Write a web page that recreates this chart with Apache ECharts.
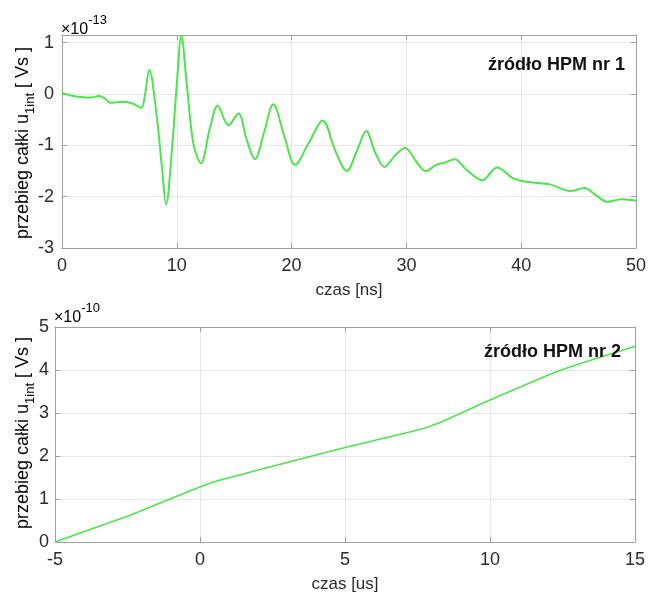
<!DOCTYPE html>
<html>
<head>
<meta charset="utf-8">
<script src="https://cdn.jsdelivr.net/npm/echarts@6/dist/echarts.min.js"></script>
<style>
html,body{margin:0;padding:0;background:#fff;}
#c{width:649px;height:595px;}
</style>
</head>
<body>
<div id="c"></div>
<script>
// ---- Data (top plot: time in ns, value in 1e-13 Vs) ----
const t1 = [0, 0.8, 1.6, 2.5, 3.2, 3.7, 4.2, 4.8, 5.4, 6.2, 6.9, 7.2, 7.6, 8.26, 8.7, 9.07, 9.57, 10.0, 10.4, 10.87, 11.45, 12.1, 12.9, 13.56, 14.5, 15.36, 16.1, 16.8, 17.6, 18.4, 19.4, 20.3, 21.5, 22.7, 23.8, 24.8, 25.7, 26.5, 27.3, 28.1, 29.0, 29.9, 30.8, 31.7, 32.6, 33.3, 34.2, 35.2, 36.6, 37.9, 39.3, 40.4, 42.5, 44.3, 45.5, 46.5, 47.5, 48.8, 50];
const u1 = [0.02, -0.03, -0.06, -0.07, -0.04, -0.08, -0.17, -0.16, -0.15, -0.19, -0.27, -0.05, 0.47, -0.45, -1.42, -2.15, -1.1, 0.19, 1.13, 0.19, -0.97, -1.35, -0.65, -0.23, -0.61, -0.38, -0.9, -1.27, -0.75, -0.2, -0.85, -1.38, -0.95, -0.52, -1.1, -1.5, -1.1, -0.72, -1.15, -1.42, -1.2, -1.05, -1.3, -1.5, -1.38, -1.34, -1.27, -1.47, -1.68, -1.43, -1.64, -1.71, -1.76, -1.89, -1.83, -1.97, -2.1, -2.05, -2.08];

// ---- Data (bottom plot: time in us, value in 1e-10 Vs) ----
const t2 = [-5, -2.5, -1.4, 0, 0.7, 4.9, 7.7, 8.2, 10, 12.3, 15];
const u2 = [0, 0.6, 0.9, 1.28, 1.44, 2.18, 2.64, 2.76, 3.30, 3.96, 4.55];

// ---- Labels ----
const xName1 = 'czas [ns]';
const xName2 = 'czas [us]';
const note1 = 'źródło HPM nr 1';
const note2 = 'źródło HPM nr 2';
const exp1 = '-13';
const exp2 = '-10';

const FONT = 'Liberation Sans, Arial, sans-serif';
const GREEN = '#4ee44e';
const BOX = '#a0a0a0';
const TXT = '#2b2b2b';

function mainX(grid, min, max, interval, name, gap) {
  return {
    type: 'value', gridIndex: grid, min: min, max: max, interval: interval,
    position: 'bottom', name: name, nameLocation: 'middle', nameGap: gap,
    nameTextStyle: {fontFamily: FONT, fontSize: 17, color: TXT},
    axisLine: {show: true, onZero: false, lineStyle: {color: BOX, width: 1}},
    axisTick: {show: true, inside: true, length: 5, lineStyle: {color: BOX}},
    axisLabel: {fontFamily: FONT, fontSize: 18, color: TXT, margin: 9},
    splitLine: {show: true, lineStyle: {color: '#e6e6e6', width: 1}}
  };
}
function boxX(grid, min, max, interval) {
  return {
    type: 'value', gridIndex: grid, min: min, max: max, interval: interval,
    position: 'top',
    axisLine: {show: true, onZero: false, lineStyle: {color: BOX, width: 1}},
    axisTick: {show: true, inside: true, length: 5, lineStyle: {color: BOX}},
    axisLabel: {show: false}, splitLine: {show: false}
  };
}
function mainY(grid, min, max, interval, margin) {
  return {
    type: 'value', gridIndex: grid, min: min, max: max, interval: interval,
    position: 'left',
    axisLine: {show: true, onZero: false, lineStyle: {color: BOX, width: 1}},
    axisTick: {show: true, inside: true, length: 5, lineStyle: {color: BOX}},
    axisLabel: {fontFamily: FONT, fontSize: 18, color: TXT, margin: margin,
      formatter: function (v) { return Number.isInteger(v) ? String(v) : ''; }},
    splitLine: {show: true, lineStyle: {color: '#e6e6e6', width: 1}}
  };
}
function boxY(grid, min, max, interval) {
  return {
    type: 'value', gridIndex: grid, min: min, max: max, interval: interval,
    position: 'right',
    axisLine: {show: true, onZero: false, lineStyle: {color: BOX, width: 1}},
    axisTick: {show: true, inside: true, length: 5, lineStyle: {color: BOX}},
    axisLabel: {show: false}, splitLine: {show: false}
  };
}

function yTitle(cx, cy) {
  return {
    type: 'text', x: cx, y: cy, rotation: Math.PI / 2, z: 10,
    style: {
      text: '{m|przebieg całki u}{s|1int}{m| [ Vs ]}',
      align: 'center', verticalAlign: 'middle',
      rich: {
        m: {fontFamily: FONT, fontSize: 18, color: TXT, lineHeight: 27, verticalAlign: 'middle'},
        s: {fontFamily: FONT, fontSize: 13, color: TXT, lineHeight: 13, verticalAlign: 'bottom'}
      }
    }
  };
}
function expLabel(x, y, e) {
  return {
    type: 'text', x: x, y: y, z: 10,
    style: {
      text: '{m|×10}{s|' + e + '}',
      align: 'left', verticalAlign: 'middle',
      rich: {
        m: {fontFamily: FONT, fontSize: 16, color: TXT, lineHeight: 24, verticalAlign: 'bottom'},
        s: {fontFamily: FONT, fontSize: 13, color: TXT, lineHeight: 13, verticalAlign: 'top'}
      }
    }
  };
}
function note(x, y, txt) {
  return {
    type: 'text', x: x, y: y, z: 10,
    style: {text: txt, align: 'right', verticalAlign: 'middle',
      font: 'bold 18px ' + FONT, fill: '#111'}
  };
}

const chart = echarts.init(document.getElementById('c'), null, {renderer: 'canvas'});
chart.setOption({
  backgroundColor: '#fff',
  animation: false,
  grid: [
    {left: 62, right: 12, top: 35, height: 213},
    {left: 55, right: 14, top: 327, height: 215}
  ],
  xAxis: [
    mainX(0, 0, 50, 10, xName1, 34),
    boxX(0, 0, 50, 10),
    mainX(1, -5, 15, 5, xName2, 34),
    boxX(1, -5, 15, 5)
  ],
  yAxis: [
    mainY(0, -3, 1.15, 1, 8),
    boxY(0, -3, 1.15, 1),
    mainY(1, 0, 5, 1, 6),
    boxY(1, 0, 5, 1)
  ],
  series: [
    {type: 'line', xAxisIndex: 0, yAxisIndex: 0, showSymbol: false, smooth: 0.35,
      lineStyle: {color: GREEN, width: 2}, data: t1.map(function (t, i) { return [t, u1[i]]; })},
    {type: 'line', xAxisIndex: 2, yAxisIndex: 2, showSymbol: false, smooth: 0.2,
      lineStyle: {color: GREEN, width: 1.6}, data: t2.map(function (t, i) { return [t, u2[i]]; })}
  ],
  graphic: [
    yTitle(23, 143),
    yTitle(23, 433),
    expLabel(61, 26, exp1),
    expLabel(54, 314, exp2),
    note(625, 65, note1),
    note(621, 352, note2)
  ]
});
</script>
</body>
</html>
